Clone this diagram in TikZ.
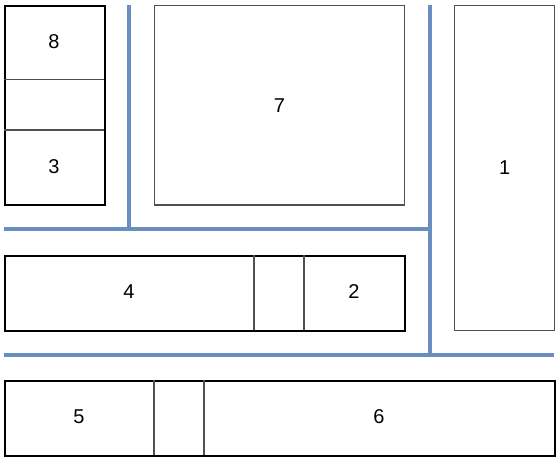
\documentclass[tikz,border=0pt]{standalone}
\usepackage{fontspec}
\setmainfont{Liberation Sans}
\definecolor{wallblue}{RGB}{106,142,192}
\definecolor{framegray}{RGB}{80,80,80}
\begin{document}
\begin{tikzpicture}[x=1pt,y=-1pt,
  font=\fontsize{20}{24}\selectfont,
  blockbox/.style={draw=black,line width=2pt,fill=white,rectangle,inner sep=0pt,anchor=north west},
  plainbox/.style={draw=framegray,line width=1.3pt,fill=white,rectangle,inner sep=0pt,anchor=north west},
  divider/.style={draw=framegray,line width=1.2pt},
  wall/.style={draw=wallblue,line width=4pt},
  lbl/.style={inner sep=0pt}]
\useasboundingbox (0,0) rectangle (560,459);

% corridor walls
\coordinate (wa1) at (128.5,5);
\coordinate (wa2) at (128.5,229);
\coordinate (wb1) at (4,229);
\coordinate (wb2) at (429.5,229);
\coordinate (wc1) at (429.5,5);
\coordinate (wc2) at (429.5,354.5);
\coordinate (wd1) at (4,354.5);
\coordinate (wd2) at (554,354.5);
\draw[wall] (wa1) -- (wa2);
\draw[wall] (wb1) -- (wb2);
\draw[wall] (wc1) -- (wc2);
\draw[wall] (wd1) -- (wd2);

% left column: 8 / blank / 3
\node[blockbox,minimum width=99.5pt,minimum height=199.5pt] (left) at (4,4.5) {};
\coordinate (l1a) at (4,79.5);  \coordinate (l1b) at (103.5,79.5);
\coordinate (l2a) at (4,130);   \coordinate (l2b) at (103.5,130);
\draw[divider] (l1a) -- (l1b);
\draw[divider] (l2a) -- (l2b);
\node[lbl] (n8) at (54,42) {8};
\node[lbl] (n3) at (54,167) {3};

% room 7
\node[plainbox,minimum width=250.5pt,minimum height=199.5pt] (r7) at (153.5,4.8) {};
\node[lbl] (n7) at (r7.center) {7};

% room 1
\node[plainbox,minimum width=100pt,minimum height=324.5pt] (r1) at (454,5) {};
\node[lbl] (n1) at (r1.center) {1};

% middle row: 4 / blank / 2
\node[blockbox,minimum width=400pt,minimum height=74.5pt] (mid) at (4,255) {};
\coordinate (m1a) at (254,255); \coordinate (m1b) at (254,329.5);
\coordinate (m2a) at (304,255); \coordinate (m2b) at (304,329.5);
\draw[divider] (m1a) -- (m1b);
\draw[divider] (m2a) -- (m2b);
\node[lbl] (n4) at (129,292) {4};
\node[lbl] (n2) at (354,292) {2};

% bottom row: 5 / blank / 6
\node[blockbox,minimum width=550pt,minimum height=74.5pt] (bot) at (4,380) {};
\coordinate (b1a) at (154,380); \coordinate (b1b) at (154,454.5);
\coordinate (b2a) at (204,380); \coordinate (b2b) at (204,454.5);
\draw[divider] (b1a) -- (b1b);
\draw[divider] (b2a) -- (b2b);
\node[lbl] (n5) at (79,417) {5};
\node[lbl] (n6) at (379,417) {6};
\end{tikzpicture}
\end{document}
